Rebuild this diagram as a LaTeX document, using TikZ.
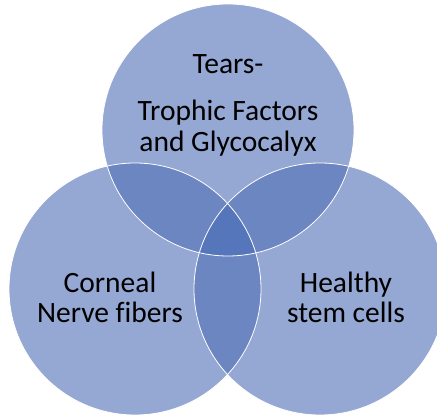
\documentclass[tikz,border=0pt]{standalone}
\usepackage{fontspec}
\setmainfont{Carlito}[Ligatures=NoCommon]
\definecolor{single}{RGB}{149,167,211}
\definecolor{pair}{RGB}{108,134,194}
\definecolor{triple}{RGB}{85,118,186}
\tikzset{
  lbl/.style={anchor=base, inner sep=0pt, font=\fontsize{29.5}{31}\selectfont, text=black},
  rim/.style={draw=white, line width=0.8pt}
}
\begin{document}
\begin{tikzpicture}[x=1pt,y=-1pt]
\useasboundingbox (0,0) rectangle (437,419);
\def\R{126}
\coordinate (T) at (228,130);
\coordinate (L) at (135,289);
\coordinate (Rc) at (320,289);
% single fills
\fill[single] (T) circle (\R);
\fill[single] (L) circle (\R);
\fill[single] (Rc) circle (\R);
% pairwise overlaps
\begin{scope}
  \clip (T) circle (\R);
  \fill[pair] (L) circle (\R);
  \fill[pair] (Rc) circle (\R);
\end{scope}
\begin{scope}
  \clip (L) circle (\R);
  \fill[pair] (Rc) circle (\R);
\end{scope}
% triple overlap
\begin{scope}
  \clip (T) circle (\R);
  \clip (L) circle (\R);
  \fill[triple] (Rc) circle (\R);
\end{scope}
% outlines
\draw[rim] (T) circle (\R);
\draw[rim] (L) circle (\R);
\draw[rim] (Rc) circle (\R);
% labels
\node[lbl] (t1) at (228,74) {Tears-};
\node[lbl] (t2) at (228,121) {Trophic Factors};
\node[lbl] (t3) at (228,152) {and Glycocalyx};
\node[lbl] (l1) at (110,293) {Corneal};
\node[lbl] (l2) at (110,323) {Nerve fibers};
\node[lbl] (r1) at (346,293) {Healthy};
\node[lbl] (r2) at (346,323) {stem cells};
\end{tikzpicture}
\end{document}
